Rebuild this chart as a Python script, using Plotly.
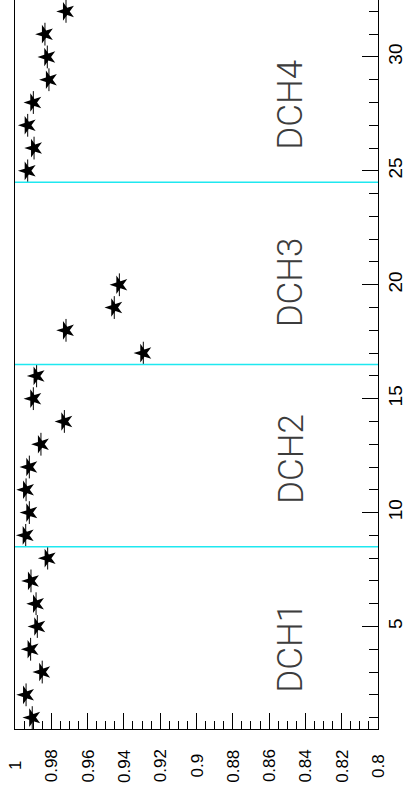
import plotly.graph_objects as go

# Relative efficiency per drift-chamber plane
planes = list(range(1, 33))
efficiency = [
    0.9905, 0.9939, 0.9850, 0.9914, 0.9877, 0.9884, 0.9912, 0.9820,   # DCH1
    0.9941, 0.9921, 0.9939, 0.9921, 0.9857, 0.9728, 0.9899, 0.9881,   # DCH2
    0.9293, 0.9719, 0.9453, 0.9425, None, None, None, None,           # DCH3
    0.9930, 0.9895, 0.9930, 0.9899, 0.9813, 0.9822, 0.9835, 0.9719,   # DCH4
]
plane_half_width = 0.5

# Chamber boundaries and names
chamber_edges = [8.5, 16.5, 24.5]
chamber_names = ["DCH1", "DCH2", "DCH3", "DCH4"]
chamber_label_pos = [4.06, 12.35, 20.1, 27.9]
label_value = 0.848

# Efficiency axis ticks
eff_ticks = [1.0, 0.98, 0.96, 0.94, 0.92, 0.9, 0.88, 0.86, 0.84, 0.82, 0.8]
eff_tick_text = ["1", "0.98", "0.96", "0.94", "0.92", "0.9", "0.88", "0.86", "0.84", "0.82", "0.8"]

fig = go.Figure()

fig.add_trace(go.Scatter(
    x=efficiency,
    y=planes,
    mode="markers",
    marker=dict(symbol="star", size=14, color="black", angle=-90,
                line=dict(width=0)),
    error_y=dict(type="constant", value=plane_half_width, thickness=1,
                 width=0, color="black"),
    showlegend=False,
))

for edge in chamber_edges:
    fig.add_shape(type="line", xref="paper", x0=0, x1=1, yref="y", y0=edge, y1=edge,
                  line=dict(color="#1ee8f0", width=1.5))

for name, pos in zip(chamber_names, chamber_label_pos):
    fig.add_annotation(x=label_value, y=pos, xref="x", yref="y", text=name,
                       showarrow=False, textangle=-90,
                       font=dict(family="Roboto, Liberation Sans", size=35,
                                 color="#3c3c3c", weight=300))

for val, txt in zip(eff_ticks, eff_tick_text):
    fig.add_annotation(x=val, xref="x", y=0, yref="paper", text=txt,
                       showarrow=False, textangle=-90, xanchor="center",
                       yanchor="middle", yshift=-37,
                       font=dict(family="Liberation Sans", size=17, color="black"))

fig.update_xaxes(
    range=[1.0, 0.8],
    tickvals=eff_ticks,
    showticklabels=False,
    ticks="inside", ticklen=16, tickcolor="black", tickwidth=1,
    minor=dict(dtick=0.005, tick0=0.8, ticks="inside", ticklen=8,
               tickcolor="black", tickwidth=1),
    showgrid=False, zeroline=False,
    showline=True, linecolor="black", linewidth=1, mirror=True,
)

fig.update_yaxes(
    range=[0.5, 32.5],
    side="right",
    tick0=0, dtick=5,
    tickangle=-90,
    ticks="inside", ticklen=16, tickcolor="black", tickwidth=1,
    minor=dict(dtick=1, tick0=0, ticks="inside", ticklen=9,
               tickcolor="black", tickwidth=1),
    tickfont=dict(family="Liberation Sans", size=19, color="black"),
    ticklabelstandoff=0,
    showgrid=False, zeroline=False,
    showline=True, linecolor="black", linewidth=1, mirror=True,
)

fig.update_layout(
    width=406, height=798,
    margin=dict(l=15, r=28, t=0, b=69, pad=0),
    paper_bgcolor="white", plot_bgcolor="white",
)

fig.write_html("out.html")
